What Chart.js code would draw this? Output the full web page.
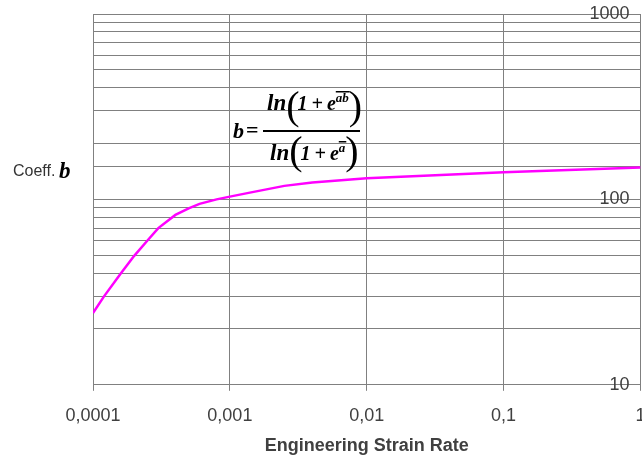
<!DOCTYPE html>
<html lang="en">
<head>
  <meta charset="UTF-8" />
  <title>Coeff. b - Engineering Strain Rate</title>
  <script src="https://cdn.jsdelivr.net/npm/chart.js"></script>
  <style>
    html, body {
      margin: 0;
      padding: 0;
      background: #fff;
      overflow: hidden;
    }
    .chart-box {
      position: relative;
      width: 660px;
      height: 459px;
    }
  </style>
</head>
<body>
  <div class="chart-box">
    <canvas id="coeffChart"></canvas>
  </div>

  <script>
    // Coefficient b against engineering strain rate
    const strainRate = [0.0001, 0.00012, 0.00016, 0.0002, 0.00025, 0.0003, 0.0004, 0.0005, 0.0006, 0.0008, 0.001, 0.0014, 0.0025, 0.004, 0.01, 0.1, 1];
    const coeffB = [24.4, 29.9, 40.0, 49.6, 60.0, 70.0, 82.5, 89.5, 94.6, 100.0, 103.5, 108.8, 118.3, 123.2, 130.1, 140.2, 148.8];

    // Axis ticks
    const xTicks = [0.0001, 0.001, 0.01, 0.1, 1];
    const xTickLabels = ['0,0001', '0,001', '0,01', '0,1', '1'];
    const yMajor = [10, 100, 1000];
    const yTickLabels = ['10', '100', '1000'];

    const sans = "'Liberation Sans', Arial, sans-serif";
    const serif = "'Liberation Serif', 'Times New Roman', serif";
    const gridGray = '#808080';

    // ln(1 + e^sup) drawn in bold italic with tall parentheses
    function drawLnTerm(ctx, x, base, sup, parenBase) {
      ctx.font = `bold italic 23px ${serif}`;
      ctx.fillText('ln', x, base);
      x += ctx.measureText('ln').width;
      ctx.font = `40px ${serif}`;
      ctx.fillText('(', x, parenBase);
      x += ctx.measureText('(').width - 2;
      ctx.font = `bold italic 20px ${serif}`;
      const body = '1\u2009+\u2009e';
      ctx.fillText(body, x, base);
      x += ctx.measureText(body).width;
      ctx.font = `bold italic 13px ${serif}`;
      ctx.fillText(sup, x, base - 8);
      const w = ctx.measureText(sup).width;
      ctx.fillRect(x, base - 19, w + 1, 1.5);
      x += w;
      ctx.font = `40px ${serif}`;
      ctx.fillText(')', x, parenBase);
    }

    const annotations = {
      id: 'annotations',
      afterDraw(chart) {
        const ctx = chart.ctx;
        ctx.save();
        ctx.textBaseline = 'alphabetic';
        ctx.textAlign = 'left';

        // y axis caption
        ctx.fillStyle = '#333';
        ctx.font = `16px ${sans}`;
        ctx.fillText('Coeff.', 13, 176);
        ctx.fillStyle = '#000';
        ctx.font = `bold italic 23px ${serif}`;
        ctx.fillText('b', 59, 178);

        // definition of b
        ctx.font = `bold italic 22px ${serif}`;
        ctx.fillText('b', 233, 138);
        ctx.font = `bold 22px ${serif}`;
        ctx.fillText('=', 246, 137);
        ctx.fillRect(263, 130, 97, 2);
        drawLnTerm(ctx, 267, 110, 'ab', 119);
        drawLnTerm(ctx, 270, 160, 'a', 164);
        ctx.restore();
      }
    };

    const ctx = document.getElementById('coeffChart').getContext('2d');
    new Chart(ctx, {
      type: 'line',
      data: {
        datasets: [{
          label: 'Coeff. b',
          data: strainRate.map((x, i) => ({ x: x, y: coeffB[i] })),
          borderColor: '#ff00ff',
          borderWidth: 2.5,
          pointRadius: 0,
          tension: 0,
          fill: false
        }]
      },
      options: {
        responsive: true,
        maintainAspectRatio: false,
        animation: false,
        layout: {
          padding: { left: 93, top: 14, right: 15, bottom: 2 }
        },
        plugins: {
          legend: { display: false },
          tooltip: { enabled: false }
        },
        scales: {
          x: {
            type: 'logarithmic',
            min: 0.0001,
            max: 1,
            afterBuildTicks: (scale) => {
              scale.ticks = xTicks.map(v => ({ value: v }));
            },
            ticks: {
              autoSkip: false,
              maxRotation: 0,
              padding: 14.5,
              color: '#404040',
              font: { family: sans, size: 18 },
              callback: (v) => xTickLabels[xTicks.indexOf(v)]
            },
            grid: { color: gridGray, tickLength: 6 },
            border: { color: gridGray },
            title: {
              display: true,
              text: 'Engineering Strain Rate',
              color: '#404040',
              font: { family: sans, size: 18, weight: 'bold' },
              padding: { top: -6, bottom: 0 }
            }
          },
          y: {
            type: 'logarithmic',
            position: 'right',
            min: 10,
            max: 1000,
            ticks: {
              mirror: true,
              autoSkip: false,
              padding: -11,
              color: '#404040',
              font: { family: sans, size: 18 },
              callback: (v) => {
                const i = yMajor.findIndex(m => Math.abs(m - v) < 1e-6);
                return i < 0 ? '' : yTickLabels[i];
              }
            },
            grid: { color: gridGray, drawTicks: false },
            border: { display: false }
          }
        }
      },
      plugins: [annotations]
    });
  </script>
</body>
</html>
